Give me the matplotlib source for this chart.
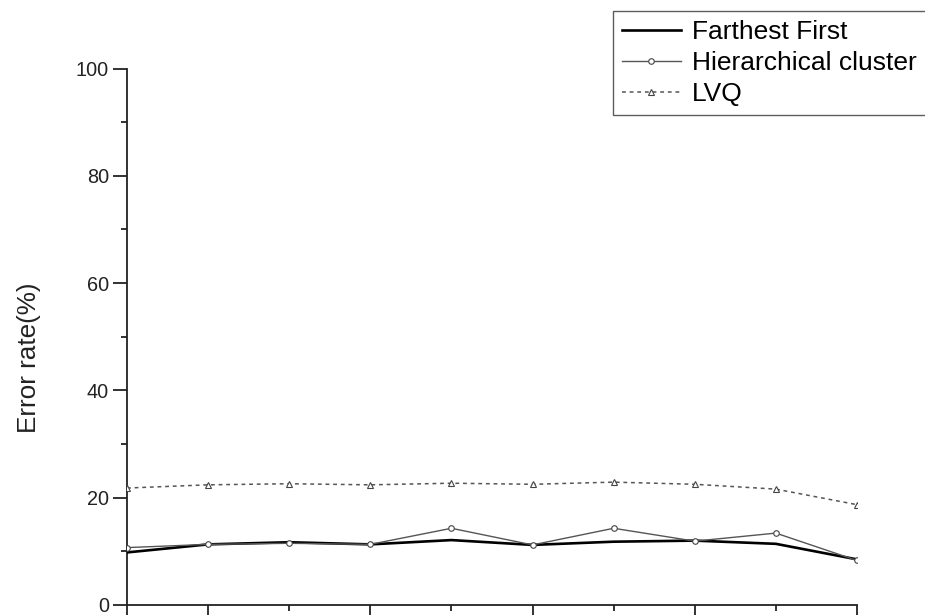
import matplotlib
matplotlib.use("Agg")
import matplotlib.pyplot as plt
from matplotlib.ticker import MultipleLocator, FixedLocator

plt.rcParams['font.family'] = ['Liberation Sans', 'DejaVu Sans']

x = [1, 2, 3, 4, 5, 6, 7, 8, 9, 10]
farthest_first = [9.8, 11.3, 11.7, 11.3, 12.1, 11.2, 11.8, 12.0, 11.4, 8.5]
hierarchical = [10.7, 11.3, 11.5, 11.3, 14.3, 11.2, 14.3, 11.9, 13.4, 8.3]
lvq = [21.8, 22.4, 22.6, 22.4, 22.7, 22.5, 22.9, 22.5, 21.6, 18.7]
labels = ["Farthest First", "Hierarchical cluster", "LVQ"]

fig = plt.figure(figsize=(9.25, 6.15), dpi=100)
ax = fig.add_axes([127/925, 10/615, (857-127)/925, 536.5/615])

ax.plot(x, farthest_first, color='black', lw=1.9, label=labels[0], zorder=3)
ax.plot(x, hierarchical, color='#555555', lw=1.0, marker='o', markersize=4,
        markerfacecolor='white', markeredgecolor='#444444', markeredgewidth=0.8,
        label=labels[1], zorder=4)
ax.plot(x, lvq, color='#555555', lw=1.1, linestyle=(0, (2.5, 2.5)), marker='^',
        markersize=4.5, markerfacecolor='white', markeredgecolor='#444444',
        markeredgewidth=0.8, label=labels[2], zorder=4)

ax.set_xlim(1, 10)
ax.set_ylim(0, 100)
ax.xaxis.set_major_locator(FixedLocator([1, 2, 4, 6, 8, 10]))
ax.xaxis.set_minor_locator(FixedLocator([3, 5, 7, 9]))
ax.yaxis.set_major_locator(MultipleLocator(20))
ax.yaxis.set_minor_locator(MultipleLocator(10))
ax.tick_params(axis='both', which='major', direction='out', length=10, width=1.3, color='#222222')
ax.tick_params(axis='both', which='minor', direction='out', length=4, width=1.3, color='#222222')
ax.tick_params(axis='x', which='both', labelbottom=False)
ax.tick_params(axis='y', labelsize=14.3, labelcolor='#222222', pad=3)
for s in ['top', 'right']:
    ax.spines[s].set_visible(False)
for s in ['left', 'bottom']:
    ax.spines[s].set_linewidth(1.3)
    ax.spines[s].set_color('#222222')

ax.set_ylabel("Error rate(%)", fontsize=18.8, color='#222222')
ax.yaxis.set_label_coords((41 - 127) / 730, (605 - 358) / 536.5)

leg = fig.legend(loc='upper left', bbox_to_anchor=(612.5/925, 1 - 11/615),
                 fontsize=19, frameon=True, fancybox=False, edgecolor='#333333',
                 handlelength=2.24, handletextpad=0.42, borderpad=0.35,
                 labelspacing=0.26, borderaxespad=0)
leg.get_frame().set_linewidth(1.0)

fig.savefig("out.png", dpi=100)
